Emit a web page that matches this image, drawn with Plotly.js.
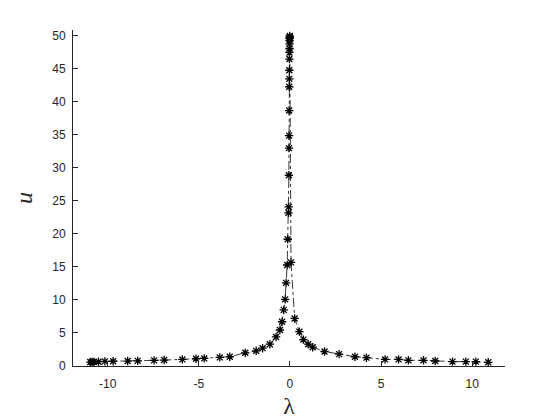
<!DOCTYPE html>
<html>
<head>
<meta charset="utf-8">
<script src="https://cdn.plot.ly/plotly-3.0.1.min.js"></script>
<style>
  body { margin: 0; background: #fff; }
  #chart { width: 560px; height: 420px; }
</style>
</head>
<body>
<div id="chart"></div>
<script>
// left branch (lambda < 0), climbing up to the spike near 0
const lambdaLeft = [-10.95, -10.85, -10.75, -10.5, -10.15, -9.7, -8.9, -8.35, -7.45, -6.9,
    -5.9, -5.15, -4.7, -3.85, -3.3, -2.45, -1.85, -1.5, -1.1, -0.76,
    -0.55, -0.43, -0.34, -0.26, -0.21, -0.15, -0.12, -0.08, -0.065, -0.055,
    -0.05, -0.045, -0.04, -0.036, -0.033, -0.03, -0.027, -0.024, -0.021, -0.018,
    -0.016, -0.014, -0.012, -0.01];
const uLeft = [0.6, 0.6, 0.62, 0.65, 0.7, 0.72, 0.75, 0.78, 0.85, 0.9,
    1.0, 1.1, 1.15, 1.3, 1.4, 2.0, 2.3, 2.7, 3.3, 4.4,
    5.45, 6.7, 8.5, 10.1, 12.6, 15.3, 19.2, 23.2, 24.1, 28.9,
    33.0, 34.9, 38.7, 42.3, 43.5, 44.8, 46.5, 47.5, 48.1, 48.8,
    49.3, 49.6, 49.8, 50.0];

// right branch (lambda > 0), falling away from the spike
const lambdaRight = [0.06, 0.26, 0.52, 0.74, 1.0, 1.25, 1.9, 2.7, 3.57, 4.2,
    5.22, 5.96, 6.5, 7.33, 7.97, 8.92, 9.65, 10.2, 10.88];
const uRight = [15.7, 7.2, 5.2, 4.0, 3.3, 2.85, 2.2, 1.8, 1.4, 1.26,
    1.0, 1.0, 0.86, 0.86, 0.76, 0.66, 0.66, 0.66, 0.56];

const xTicks = [-10, -5, 0, 5, 10];
const xTickText = ['-10', '-5', '0', '5', '10'];
const yTicks = [0, 5, 10, 15, 20, 25, 30, 35, 40, 45, 50];

var trace = {
    x: lambdaLeft.concat(lambdaRight),
    y: uLeft.concat(uRight),
    type: 'scatter',
    mode: 'lines+markers',
    line: { color: '#000000', width: 0.8, dash: 'dashdot' },
    marker: {
        symbol: 'asterisk-open',
        size: 7,
        color: '#000000',
        line: { color: '#000000', width: 1.3 }
    },
    hoverinfo: 'none'
};

var axisStyle = {
    showline: true,
    linecolor: '#262626',
    linewidth: 1,
    ticks: 'inside',
    ticklen: 5,
    tickwidth: 1,
    tickcolor: '#262626',
    showgrid: false,
    zeroline: false,
    tickfont: { family: 'Liberation Sans, Arial, sans-serif', size: 12, color: '#262626' }
};

var layout = {
    width: 560,
    height: 420,
    showlegend: false,
    paper_bgcolor: '#ffffff',
    plot_bgcolor: '#ffffff',
    margin: { l: 73, r: 55, t: 30, b: 54 },
    xaxis: Object.assign({}, axisStyle, {
        range: [-11.9, 11.8],
        tickvals: xTicks,
        ticktext: xTickText,
        ticklabelstandoff: 7,
        title: {
            text: 'λ',
            font: { family: 'Liberation Serif, serif', size: 24, color: '#262626' },
            standoff: 6
        }
    }),
    yaxis: Object.assign({}, axisStyle, {
        range: [0, 50.9],
        tickvals: yTicks,
        ticklabelstandoff: 4,
        title: {
            text: '<i>u</i>',
            font: { family: 'Liberation Serif, serif', size: 24, color: '#262626' },
            standoff: 12
        }
    })
};

Plotly.newPlot('chart', [trace], layout, { displayModeBar: false, staticPlot: true });
</script>
</body>
</html>
